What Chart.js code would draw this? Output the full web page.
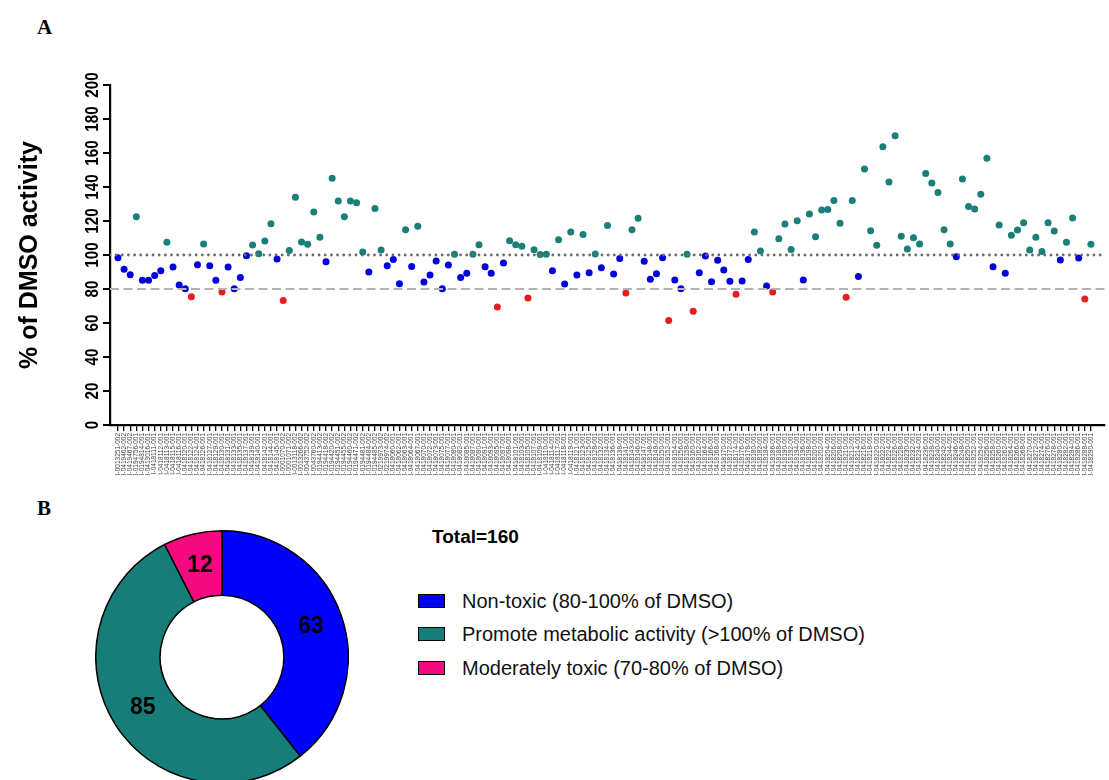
<!DOCTYPE html>
<html>
<head>
<meta charset="utf-8">
<script src="https://cdn.jsdelivr.net/npm/chart.js@4.4.0/dist/chart.umd.min.js"></script>
<style>
  html, body { margin:0; padding:0; width:1109px; height:780px; overflow:hidden; background:#fff; }
  #sc { position:absolute; left:0; top:0; }
  #dn { position:absolute; left:95px; top:530px; }
  .panel { position:absolute; font-family:"Liberation Serif","Times New Roman",serif; font-weight:bold; font-size:21px; color:#000; line-height:24px; }
  .total { position:absolute; left:432px; top:526px; font-family:"Liberation Sans",Arial,sans-serif; font-weight:bold; font-size:19px; line-height:22px; color:#000; }
  .row { position:absolute; left:418px; height:22px; font-family:"Liberation Sans",Arial,sans-serif; font-size:20px; line-height:22px; color:#111; white-space:nowrap; }
  .row .box { position:absolute; left:0; top:4px; width:27px; height:14px; box-sizing:border-box; border:1.5px solid #000; }
  .row .txt { position:absolute; left:44px; top:0; }
</style>
</head>
<body>
<div class="panel" style="left:37px;top:15px;">A</div>
<div class="panel" style="left:37px;top:496px;">B</div>
<canvas id="sc" width="1109" height="490"></canvas>
<canvas id="dn" width="254" height="254"></canvas>
<div class="total">Total=160</div>
<div id="legend"></div>
<script>
// ---------- DATA ----------
const compoundIds = [
"I-0013251-002","I-0419462-002","I-0419467-002","I-0194756-001","I-0194814-001","I-0413016-001","I-0418111-001","I-0418112-001",
"I-0418113-001","I-0418115-001","I-0418116-001","I-0418120-001","I-0418122-001","I-0418124-001","I-0418126-001","I-0418127-001",
"I-0418129-001","I-0418130-001","I-0418131-001","I-0418133-001","I-0418135-001","I-0418137-001","I-0418139-001","I-0418140-001",
"I-0418142-001","I-0418144-001","I-0418145-001","I-0001070-002","I-0001071-002","I-0013118-002","I-0013266-002","I-0043752-002",
"I-0043760-002","I-0194413-002","I-0194418-002","I-0194420-002","I-0194451-002","I-0194455-002","I-0194460-002","I-0194471-002",
"I-0194481-002","I-0194484-002","I-0194485-002","I-0219973-002","I-0219974-002","I-0418060-001","I-0418062-001","I-0418063-001",
"I-0418064-001","I-0418067-001","I-0418070-001","I-0418072-001","I-0418073-001","I-0418075-001","I-0418077-001","I-0418080-001",
"I-0418082-001","I-0418085-001","I-0418087-001","I-0418090-001","I-0418091-001","I-0418093-001","I-0418095-001","I-0418097-001",
"I-0418098-001","I-0418101-001","I-0418103-001","I-0418105-001","I-0418107-001","I-0418109-001","I-0418110-001","I-0418114-001",
"I-0418117-001","I-0418118-001","I-0418119-001","I-0418121-001","I-0418123-001","I-0418125-001","I-0418128-001","I-0418132-001",
"I-0418134-001","I-0418136-001","I-0418138-001","I-0418141-001","I-0418143-001","I-0418146-001","I-0418147-001","I-0418148-001",
"I-0418149-001","I-0418150-001","I-0418152-001","I-0418154-001","I-0418156-001","I-0418158-001","I-0418160-001","I-0418162-001",
"I-0418164-001","I-0418166-001","I-0418168-001","I-0418170-001","I-0418172-001","I-0418174-001","I-0418176-001","I-0418178-001",
"I-0418180-001","I-0418182-001","I-0418184-001","I-0418186-001","I-0418188-001","I-0418190-001","I-0418192-001","I-0418194-001",
"I-0418196-001","I-0418198-001","I-0418200-001","I-0418202-001","I-0418204-001","I-0418206-001","I-0418208-001","I-0418210-001",
"I-0418212-001","I-0418214-001","I-0418216-001","I-0418218-001","I-0418220-001","I-0418222-001","I-0418224-001","I-0418226-001",
"I-0418228-001","I-0418230-001","I-0418232-001","I-0418234-001","I-0418236-001","I-0418238-001","I-0418240-001","I-0418242-001",
"I-0418244-001","I-0418246-001","I-0418248-001","I-0418250-001","I-0418252-001","I-0418254-001","I-0418256-001","I-0418258-001",
"I-0418260-001","I-0418262-001","I-0418264-001","I-0418266-001","I-0418268-001","I-0418270-001","I-0418272-001","I-0418274-001",
"I-0418276-001","I-0418278-001","I-0418280-001","I-0418282-001","I-0418284-001","I-0418286-001","I-0418288-001","I-0418290-001"
];

const activity = [
 98.4, 91.6, 88.4,122.5, 85.1, 85.1, 88.0, 90.8,107.5, 92.9,
 82.4, 80.2, 75.5, 94.3,106.5, 93.7, 85.1, 78.2, 92.9, 80.1,
 86.7, 99.6,105.9,100.8,108.2,118.4, 97.6, 73.3,102.7,133.9,
107.6,106.3,125.3,110.4, 96.1,145.2,131.8,122.5,131.8,130.8,
101.8, 90.0,127.3,102.9, 93.7, 97.3, 83.1,114.9, 93.3,116.9,
 84.1, 88.2, 96.5, 80.2, 94.1,100.4, 86.7, 89.2,100.4,106.1,
 93.1, 89.2, 69.4, 95.3,108.4,106.1,105.1, 74.7,103.1,100.3,
100.4, 90.8,109.0, 82.9,113.5, 88.2,112.0, 89.6,100.6, 92.5,
117.3, 88.8, 98.0, 77.6,114.9,121.6, 96.3, 85.7, 89.0, 98.4,
 61.5, 85.3, 80.1,100.4, 66.9, 89.6, 99.4, 84.3, 96.9, 91.2,
 84.5, 76.9, 84.7, 97.3,113.5,102.4, 81.8, 78.2,109.6,118.2,
103.3,120.2, 85.3,124.1,110.8,126.5,126.7,132.0,118.7, 75.1,
132.0, 87.3,150.6,114.3,105.7,163.7,142.9,170.2,111.0,103.5,
110.2,106.5,148.0,142.4,136.7,114.9,106.5, 99.0,144.7,128.6,
127.1,135.7,156.9, 93.1,117.6, 89.2,111.6,114.7,119.0,102.9,
110.4,102.0,119.0,114.1, 97.1,107.5,121.8, 98.2, 74.1,106.3
];

const yTicks = [0, 20, 40, 60, 80, 100, 120, 140, 160, 180, 200];
const refLines = [100, 80];

const classLabels = ["Non-toxic (80-100% of DMSO)", "Promote metabolic activity (>100% of DMSO)", "Moderately toxic (70-80% of DMSO)"];
const classCounts = [63, 85, 12];
const donutColors = ["#0000ff", "#177d79", "#f4097f"];
const pointColors = ["#0000dd", "#1a7f79", "#e81c1f"];

// ---------- BUILD ----------
const X_MIN = -1.3, X_MAX = 161.3;
function cls(v){ return v > 100 ? 1 : (v >= 80 ? 0 : 2); }
const groups = [[],[],[]];
activity.forEach((v,i)=>groups[cls(v)].push({x:i, y:v}));

const yTickLabels = {
  id:'yTickLabels',
  afterDraw(chart){
    const ys = chart.scales.y, ctx = chart.ctx;
    ctx.save();
    ctx.font = 'bold 19px "Liberation Sans", Arial, sans-serif';
    ctx.fillStyle = '#000';
    ctx.textAlign = 'center';
    ctx.textBaseline = 'middle';
    ys.ticks.forEach(t=>{
      const y = ys.getPixelForValue(t.value);
      ctx.save();
      ctx.translate(ys.right - 17, y);
      ctx.rotate(-Math.PI/2);
      ctx.scale(0.8, 1);
      ctx.fillText(String(t.value), 0, 0);
      ctx.restore();
    });
    ctx.restore();
  }
};

new Chart(document.getElementById('sc'), {
  type:'scatter',
  data:{ datasets:[
    { label:'100%', showLine:true, data:[{x:X_MIN,y:refLines[0]},{x:X_MAX,y:refLines[0]}],
      borderColor:'#6a6a6a', borderWidth:2.8, borderDash:[0,6.15], borderCapStyle:'round', pointRadius:0, order:0 },
    { label:'80%', showLine:true, data:[{x:X_MIN,y:refLines[1]},{x:X_MAX,y:refLines[1]}],
      borderColor:'#b3b3b3', borderWidth:2.2, borderDash:[9,4.5], pointRadius:0, order:0 },
    { label:classLabels[0], data:groups[0], pointBackgroundColor:pointColors[0], pointBorderWidth:0, pointRadius:3.5, order:1 },
    { label:classLabels[1], data:groups[1], pointBackgroundColor:pointColors[1], pointBorderWidth:0, pointRadius:3.5, order:1 },
    { label:classLabels[2], data:groups[2], pointBackgroundColor:pointColors[2], pointBorderWidth:0, pointRadius:3.5, order:1 }
  ]},
  options:{
    responsive:false, animation:false,
    layout:{ padding:{ top:85, right:2, bottom:0, left:0 } },
    plugins:{ legend:{display:false}, tooltip:{enabled:false} },
    scales:{
      x:{
        type:'linear', min:X_MIN, max:X_MAX,
        afterBuildTicks:(s)=>{ s.ticks = compoundIds.map((_,i)=>({value:i})); },
        ticks:{ autoSkip:false, minRotation:90, maxRotation:90, padding:2,
                font:{ size:6.5, family:'"Liberation Sans", Arial, sans-serif' }, color:'#444',
                callback:(v,i)=>compoundIds[i] },
        grid:{ drawOnChartArea:false, drawTicks:true, tickLength:6, color:'#000', lineWidth:1.3 },
        border:{ display:true, color:'#000', width:2.2 },
        afterFit:(s)=>{ s.height = 65; }
      },
      y:{
        min:0, max:200,
        afterBuildTicks:(s)=>{ s.ticks = yTicks.map(v=>({value:v})); },
        ticks:{ display:false },
        grid:{ drawOnChartArea:false, drawTicks:true, tickLength:7, color:'#000', lineWidth:2 },
        border:{ display:true, color:'#000', width:2.2 },
        title:{ display:true, text:'% of DMSO activity', color:'#000',
                font:{ size:25, weight:'bold', family:'"Liberation Sans", Arial, sans-serif' },
                padding:{ top:15, bottom:0 } },
        afterFit:(s)=>{ s.width = 110; }
      }
    }
  },
  plugins:[yTickLabels]
});

const arcLabels = {
  id:'arcLabels',
  afterDatasetsDraw(chart){
    const ctx = chart.ctx, meta = chart.getDatasetMeta(0);
    ctx.save();
    ctx.font = 'bold 23px "Liberation Sans", Arial, sans-serif';
    ctx.fillStyle = '#000';
    ctx.textAlign = 'center';
    ctx.textBaseline = 'middle';
    meta.data.forEach((arc,i)=>{
      const p = arc.tooltipPosition();
      ctx.fillText(String(classCounts[i]), p.x, p.y);
    });
    ctx.restore();
  }
};

new Chart(document.getElementById('dn'), {
  type:'doughnut',
  data:{ labels:classLabels, datasets:[{ data:classCounts, backgroundColor:donutColors, borderColor:'#000', borderWidth:1.5 }] },
  options:{ responsive:false, animation:false, cutout:'49%',
            plugins:{ legend:{display:false}, tooltip:{enabled:false} } },
  plugins:[arcLabels]
});

// HTML legend
const legendTops = [590, 623, 657];
const lg = document.getElementById('legend');
classLabels.forEach((t,i)=>{
  const r = document.createElement('div');
  r.className = 'row';
  r.style.top = legendTops[i] + 'px';
  r.innerHTML = '<div class="box" style="background:'+donutColors[i]+'"></div><div class="txt"></div>';
  r.querySelector('.txt').textContent = t;
  lg.appendChild(r);
});
</script>
</body>
</html>
